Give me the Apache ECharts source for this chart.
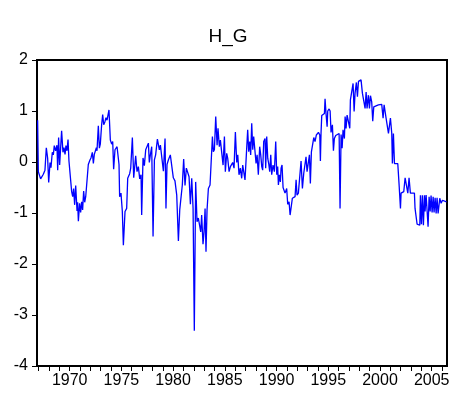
<!DOCTYPE html>
<html><head><meta charset="utf-8">
<script src="https://cdn.jsdelivr.net/npm/echarts@6/dist/echarts.min.js"></script>
<style>html,body{margin:0;padding:0;background:#fff}#c{width:456px;height:394px}</style>
</head><body><div id="c"></div>
<script>
var title = "H_G";
var years = [
1966.90,1966.97,1967.19,1967.45,1967.61,1967.74,1967.87,1967.97,1968.10,1968.19,1968.32,1968.42,1968.51,1968.64,1968.77,1968.84,1968.93,1969.03,1969.16,1969.22,1969.35,1969.45,1969.55,1969.64,1969.74,1969.84,1969.93,1970.06,1970.19,1970.29,1970.38,1970.48,1970.58,1970.71,1970.77,1970.84,1970.96,1971.06,1971.16,1971.25,1971.35,1971.45,1971.55,1971.67,1971.80,1971.96,1972.06,1972.19,1972.29,1972.38,1972.51,1972.58,1972.64,1972.77,1972.87,1972.96,1973.09,1973.19,1973.29,1973.41,
1973.51,1973.61,1973.80,1973.93,1974.06,1974.16,1974.25,1974.38,1974.58,1974.77,1974.83,1974.96,1975.09,1975.19,1975.35,1975.51,1975.61,1975.80,1975.90,1976.06,1976.19,1976.38,1976.51,1976.64,1976.77,1976.90,1976.96,1977.09,1977.22,1977.35,1977.48,1977.61,1977.70,1977.80,1977.93,1978.06,1978.19,1978.31,1978.48,1978.57,1978.67,1978.77,1978.89,1979.06,1979.22,1979.31,1979.41,1979.54,1979.73,1979.86,1980.02,1980.18,
1980.35,1980.51,1980.64,1980.76,1980.89,1981.02,1981.15,1981.28,1981.41,1981.54,1981.67,1981.80,1981.93,1982.05,1982.18,1982.31,1982.44,1982.57,1982.67,1982.76,1982.89,1982.99,1983.09,1983.18,1983.28,1983.41,1983.57,1983.67,1983.80,1983.89,1983.99,1984.12,1984.25,1984.34,1984.47,1984.57,1984.70,1984.83,1984.96,1985.05,1985.18,1985.28,1985.41,1985.54,1985.66,1985.76,1985.89,1986.02,1986.15,1986.25,1986.37,1986.50,1986.63,1986.73,1986.86,1986.95,
1987.08,1987.21,1987.31,1987.41,1987.50,1987.60,1987.70,1987.79,1987.92,1988.02,1988.12,1988.24,1988.37,1988.47,1988.57,1988.66,1988.76,1988.89,1988.95,1989.05,1989.15,1989.24,1989.34,1989.44,1989.53,1989.66,1989.79,1989.92,1990.02,1990.11,1990.18,1990.27,1990.37,1990.44,1990.53,1990.63,1990.73,1990.82,1990.89,1990.98,1991.08,1991.21,1991.31,1991.40,1991.53,1991.66,1991.79,1991.89,1991.98,1992.11,1992.24,1992.37,1992.50,1992.63,1992.76,1992.85,1992.95,1993.08,1993.18,1993.27,1993.37,1993.47,1993.60,1993.72,
1993.85,1994.05,1994.18,1994.24,1994.30,1994.37,1994.50,1994.63,1994.69,1994.79,1994.89,1994.95,1995.08,1995.18,1995.27,1995.40,1995.50,1995.59,1995.72,1995.85,1996.05,1996.14,1996.24,1996.34,1996.43,1996.56,1996.63,1996.72,1996.82,1996.95,1997.08,1997.14,1997.27,1997.40,1997.50,1997.59,1997.72,1997.82,1997.92,1998.04,1998.17,1998.30,1998.43,1998.56,1998.66,1998.75,1998.88,1998.98,1999.08,1999.20,1999.30,1999.40,1999.53,1999.85,2000.17,2000.30,2000.40,2000.49,
2000.59,2000.75,2000.82,2000.94,2001.01,2001.14,2001.20,2001.30,2001.40,2001.53,2001.72,2001.85,2001.98,2002.04,2002.17,2002.30,2002.43,2002.59,2002.69,2002.81,2002.94,2003.07,2003.33,2003.39,2003.49,2003.59,2003.72,2003.85,2003.91,2004.01,2004.10,2004.20,2004.30,2004.36,2004.46,2004.56,2004.65,2004.75,2004.85,2004.94,2005.04,2005.14,2005.23,2005.33,2005.43,2005.52,2005.62,2005.72,2005.78,2005.91,2006.04,2006.17,2006.43
];
var hg = [
0.82,-0.19,-0.33,-0.24,-0.16,0.28,0.07,-0.40,-0.01,-0.11,0.19,0.14,0.32,0.22,0.33,-0.16,0.48,-0.06,0.40,0.61,0.19,0.28,0.15,0.32,0.22,0.44,0.02,-0.01,-0.58,-0.68,-0.52,-0.84,-0.46,-0.96,-0.79,-1.16,-0.81,-0.99,-0.78,-0.94,-0.57,-0.79,-0.68,-0.71,-0.05,0.04,0.08,0.19,-0.03,0.15,0.12,0.28,0.22,0.71,0.27,0.35,0.73,0.93,0.73,0.79,
0.87,0.82,1.02,0.43,0.35,0.40,-0.14,0.24,0.30,-0.05,-0.68,-0.61,-0.97,-1.63,-0.97,-0.91,-0.32,-0.23,-0.12,0.48,-0.31,0.12,-0.19,-0.09,-0.33,-0.25,-1.04,0.08,-0.07,0.24,0.27,0.37,-0.01,0.14,0.30,-1.46,0.04,0.14,0.45,0.46,0.24,0.33,0.30,-0.18,0.46,-0.91,-0.05,0.04,0.14,0.15,-0.31,-0.37,
-0.65,-1.55,-0.94,-0.91,-0.45,0.06,-0.46,-0.12,-0.09,-0.29,-0.83,-0.32,-0.91,-3.31,-0.39,-1.17,-1.10,-1.07,-1.37,-1.04,-1.61,-1.37,-0.91,-1.76,-0.94,-0.52,-0.45,-0.42,0.50,0.20,0.24,0.89,0.33,0.66,0.30,0.43,0.40,-0.06,0.50,-0.19,0.17,0.07,-0.19,-0.09,-0.12,-0.01,-0.12,0.59,-0.01,0.14,-0.25,-0.12,-0.32,-0.06,-0.05,-0.35,
0.14,0.63,0.20,0.40,0.14,0.76,0.24,0.50,0.53,-0.03,0.14,-0.25,0.30,0.14,-0.09,-0.16,0.40,0.46,-0.12,0.50,0.07,-0.03,-0.19,0.14,-0.25,-0.06,-0.19,0.40,-0.25,-0.09,-0.45,-0.25,-0.39,-0.12,-0.06,-0.50,-0.52,-0.61,-0.58,-0.52,-0.83,-0.78,-1.04,-1.03,-0.71,-0.73,-0.68,-0.35,-0.65,-0.61,-0.58,0.02,-0.52,-0.22,-0.19,0.10,-0.19,-0.16,0.14,-0.42,0.20,0.22,0.48,0.40,
0.53,0.58,0.53,0.02,0.56,0.91,0.93,0.95,1.24,0.93,0.69,1.00,1.04,1.00,0.58,0.73,0.22,0.46,0.52,0.54,0.56,-0.91,0.54,0.27,0.63,0.46,0.89,0.66,0.92,0.93,0.66,1.22,1.25,1.54,0.99,1.35,1.56,1.28,1.58,1.59,1.61,1.35,1.33,1.05,1.37,1.05,1.31,1.05,1.30,1.18,0.80,1.08,1.10,1.12,1.13,0.86,1.12,1.13,
0.86,0.84,0.56,0.56,0.86,0.56,-0.03,0.56,-0.03,-0.01,-0.03,-0.45,-0.91,-0.61,-0.59,-0.58,-0.31,-0.31,-0.61,-0.31,-0.61,-0.61,-0.61,-0.91,-0.91,-1.22,-1.22,-1.24,-0.65,-1.22,-0.65,-1.24,-0.65,-0.97,-0.65,-0.97,-1.27,-0.68,-0.97,-0.66,-0.99,-0.68,-0.99,-0.70,-1.01,-0.70,-1.01,-1.03,-0.71,-0.81,-0.75,-0.76,-0.78
];
var yearTicks = [];
for (var t = 1967; t <= 2006; t++) yearTicks.push(t);
var yearLabels = [1970, 1975, 1980, 1985, 1990, 1995, 2000, 2005];

var data = years.map(function (y, i) { return [y, hg[i]]; });
var chart = echarts.init(document.getElementById('c'), null, {renderer: 'canvas'});
var font = 'Arial, "Liberation Sans", sans-serif';
chart.setOption({
  animation: false,
  backgroundColor: '#fff',
  title: {text: title, left: 'center', top: 22, textStyle: {fontFamily: font, fontWeight: 'normal', fontSize: 19, color: '#000'}},
  grid: {left: 37, right: 9, top: 60, bottom: 28, show: true, borderColor: '#000', borderWidth: 2, containLabel: false},
  xAxis: {
    type: 'value', min: 1966.84, max: 2006.48,
    axisLine: {show: true, onZero: false, lineStyle: {color: '#000', width: 2}},
    axisTick: {show: true, inside: false, length: 5, lineStyle: {color: '#000'}, customValues: yearTicks},
    axisLabel: {customValues: yearLabels, color: '#000', fontFamily: font, fontSize: 16, margin: 7, formatter: function (v) { return String(v); }},
    splitLine: {show: false}
  },
  yAxis: {
    type: 'value', min: -4, max: 2, interval: 1,
    axisLine: {show: true, onZero: false, lineStyle: {color: '#000', width: 2}},
    axisTick: {show: true, inside: false, length: 5, lineStyle: {color: '#000'}},
    axisLabel: {color: '#000', fontFamily: font, fontSize: 16, margin: 9},
    splitLine: {show: false}
  },
  series: [{
    type: 'line', data: data, showSymbol: false, symbol: 'none',
    lineStyle: {color: '#0000ff', width: 1.3}, z: 3
  }]
});
</script></body></html>
